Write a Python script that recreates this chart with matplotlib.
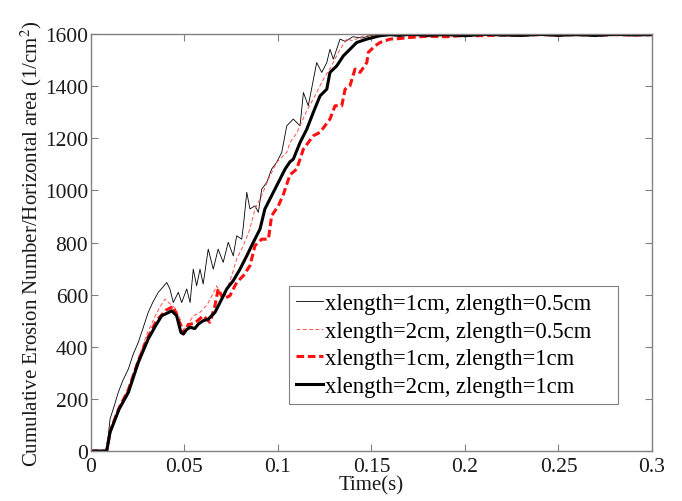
import matplotlib
matplotlib.use('Agg')
import matplotlib.pyplot as plt

plt.rcParams['font.family'] = ['Liberation Serif', 'DejaVu Serif']
plt.rcParams['mathtext.fontset'] = 'stix'

# shared flat tail (time) after saturation
tail_t = [0.165, 0.17, 0.18, 0.19, 0.2, 0.21, 0.22, 0.23, 0.24, 0.25, 0.26, 0.27, 0.28, 0.29, 0.3]

# xlength=1cm, zlength=0.5cm (thin black)
t1 = [0, 0.0084, 0.0102, 0.0125, 0.0146, 0.017, 0.020, 0.0225, 0.0253, 0.028, 0.0306, 0.033, 0.036,
      0.038, 0.0405, 0.0422, 0.044, 0.0467, 0.0485, 0.0512, 0.053, 0.0547, 0.0565, 0.0583, 0.060,
      0.0627, 0.0654, 0.068, 0.0707, 0.0734, 0.0761, 0.0779, 0.0806, 0.0815, 0.0833, 0.085, 0.0877,
      0.0895, 0.0913, 0.094, 0.0966, 0.0993, 0.102, 0.1047, 0.1082, 0.1118, 0.1136, 0.1162, 0.1207,
      0.1234, 0.1261, 0.1278, 0.1296, 0.1332, 0.136, 0.14, 0.145, 0.15, 0.155, 0.16] + tail_t
y1 = [0, 0, 123, 175, 225, 270, 315, 370, 417, 475, 532, 570, 609,
      625, 647, 622, 570, 609, 570, 622, 570, 698, 634, 698, 641,
      775, 698, 775, 724, 801, 749, 826, 813, 864, 993, 929, 941,
      916, 1005, 1031, 1082, 1108, 1146, 1248, 1274, 1248, 1376, 1325, 1491,
      1453, 1491, 1542, 1504, 1581, 1572, 1590, 1585, 1596, 1592, 1598] + \
     [1594, 1599, 1591, 1598, 1595, 1600, 1593, 1598, 1596, 1592, 1599, 1595, 1598, 1594, 1597]

# xlength=2cm, zlength=0.5cm (thin red dashed)
t2 = [0, 0.0084, 0.0102, 0.015, 0.020, 0.025, 0.030, 0.0345, 0.0375, 0.0396, 0.0415, 0.043,
      0.0455, 0.048, 0.0495, 0.052, 0.055, 0.058, 0.060, 0.062, 0.065, 0.0672, 0.0695, 0.0717,
      0.0735, 0.0753, 0.0779, 0.0815, 0.085, 0.0877, 0.0913, 0.0949, 0.0993, 0.1047, 0.1064,
      0.11, 0.115, 0.1195, 0.1243, 0.128, 0.1332, 0.1367, 0.14, 0.145, 0.15, 0.155, 0.16] + tail_t
y2 = [0, 0, 80, 165, 240, 350, 450, 520, 560, 583, 570, 560,
      545, 500, 465, 490, 520, 530, 545, 560, 600, 634, 600, 596,
      640, 673, 737, 788, 852, 929, 980, 1044, 1108, 1146, 1184,
      1220, 1300, 1360, 1427, 1470, 1542, 1581, 1575, 1592, 1596, 1590, 1597] + \
     [1595, 1598, 1593, 1599, 1596, 1598, 1594, 1599, 1597, 1595, 1598, 1596, 1599, 1595, 1598]

# xlength=1cm, zlength=1cm (thick red dashed)
t3 = [0, 0.0084, 0.0102, 0.015, 0.020, 0.025, 0.030, 0.035, 0.040, 0.044, 0.047, 0.0495,
      0.052, 0.055, 0.057, 0.060, 0.0636, 0.0663, 0.068, 0.0707, 0.0743, 0.0779, 0.0815, 0.085,
      0.0877, 0.0913, 0.0949, 0.0966, 0.1002, 0.1029, 0.1064, 0.11, 0.1136, 0.1189, 0.1225,
      0.1278, 0.1305, 0.1341, 0.1359, 0.1385, 0.1412, 0.1439, 0.1475, 0.1483, 0.1519, 0.1546,
      0.16] + tail_t
y3 = [0, 0, 75, 165, 235, 340, 430, 500, 540, 555, 500, 450,
      485, 490, 500, 519, 494, 558, 622, 583, 596, 647, 673, 711,
      788, 813, 813, 903, 941, 985, 1060, 1082, 1159, 1210, 1223,
      1274, 1325, 1325, 1389, 1402, 1466, 1453, 1491, 1530, 1555, 1568,
      1581] + \
     [1583, 1587, 1592, 1590, 1595, 1594, 1597, 1596, 1598, 1597, 1598, 1596, 1598, 1597, 1598]

# xlength=2cm, zlength=1cm (thick black)
t4 = [0, 0.0084, 0.0102, 0.015, 0.020, 0.0253, 0.0306, 0.0345, 0.0378, 0.041, 0.0432, 0.0458,
      0.0481, 0.0494, 0.051, 0.053, 0.0555, 0.0574, 0.060, 0.0627, 0.0663, 0.069, 0.0726, 0.0761,
      0.0797, 0.0833, 0.0868, 0.0904, 0.093, 0.0966, 0.1002, 0.1038, 0.1064, 0.1082, 0.1118,
      0.1154, 0.1189, 0.1225, 0.1261, 0.1278, 0.1314, 0.135, 0.1385, 0.1421, 0.1475, 0.1546,
      0.16] + tail_t
y4 = [0, 0, 72, 160, 225, 340, 430, 480, 519, 530, 538, 519,
      455, 449, 465, 475, 470, 487, 500, 506, 532, 570, 622, 654,
      698, 749, 801, 852, 929, 980, 1031, 1082, 1110, 1120, 1184,
      1235, 1300, 1363, 1389, 1453, 1478, 1517, 1542, 1568, 1581, 1594,
      1598] + \
     [1595, 1599, 1596, 1598, 1594, 1599, 1597, 1595, 1599, 1596, 1598, 1595, 1599, 1597, 1598]

labels = ['xlength=1cm, zlength=0.5cm', 'xlength=2cm, zlength=0.5cm',
          'xlength=1cm, zlength=1cm', 'xlength=2cm, zlength=1cm']

fig = plt.figure(figsize=(6.82, 5.02), dpi=100)
ax = fig.add_axes([0.1334, 0.0996, 0.8226, 0.8304])

ax.plot(t1, y1, color='black', lw=0.6, label=labels[0])
ax.plot(t2, y2, color='#ff5050', lw=0.7, dashes=(4, 2.5), label=labels[1])
ax.plot(t3, y3, color='#ff1010', lw=2.2, dashes=(2.5, 1.2), label=labels[2])
ax.plot(t4, y4, color='black', lw=2.2, label=labels[3])

ax.set_xlim(0, 0.3)
ax.set_ylim(0, 1600)
ax.set_xticks([0, 0.05, 0.1, 0.15, 0.2, 0.25, 0.3])
ax.set_xticklabels(['0', '0.05', '0.1', '0.15', '0.2', '0.25', '0.3'])
ax.set_yticks(range(0, 1601, 200))

for s in ax.spines.values():
    s.set_color('#808080')
    s.set_linewidth(1.0)
ax.tick_params(direction='in', top=True, right=True, length=5, color='#808080',
               labelsize=15.5, labelcolor='#1a1a1a')
ax.tick_params(axis='x', pad=4)
ax.tick_params(axis='y', pad=2)

ax.set_xlabel('Time(s)', fontsize=15, labelpad=0, color='#1a1a1a')
ax.set_ylabel('Cumulative Erosion Number/Horizontal area (1/cm$^2$)', fontsize=15,
              labelpad=1, color='#1a1a1a')

leg = ax.legend(loc='lower left', bbox_to_anchor=(0.353, 0.113, 0.586, 0.29), mode='expand',
                fontsize=16.3, fancybox=False, framealpha=1, edgecolor='#808080',
                handlelength=1.2, handletextpad=0.1, borderpad=0.3, labelspacing=0.3,
                borderaxespad=0)
leg.get_frame().set_linewidth(0.8)

fig.savefig('out.png', dpi=100)
